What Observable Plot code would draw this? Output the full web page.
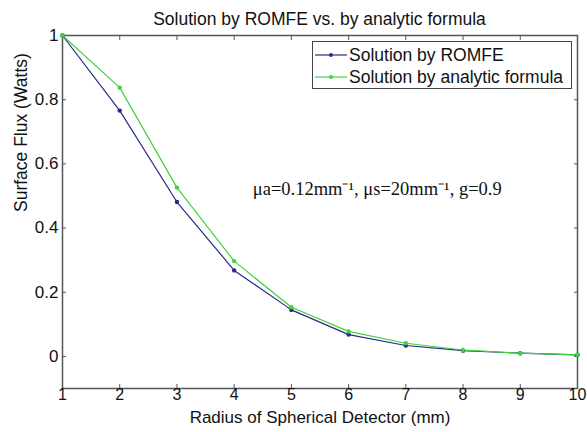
<!DOCTYPE html>
<html>
<head>
<meta charset="utf-8">
<script src="https://cdn.jsdelivr.net/npm/d3@7"></script>
<script src="https://cdn.jsdelivr.net/npm/@observablehq/plot@0.6"></script>
<style>
  body { margin: 0; background: #fff; }
  #wrap { position: relative; width: 587px; height: 432px; font-family: "Liberation Sans", Arial, sans-serif; }
  #title { position: absolute; left: 62px; width: 515px; top: 8px; line-height: 22px; text-align: center; font-size: 17.5px; color: #111; white-space: nowrap; }
  #legend { position: absolute; left: 312px; top: 41px; width: 258px; height: 46px; border: 1px solid #444; background: #fff; font-size: 17.5px; color: #111; }
  .row { position: absolute; left: 2px; height: 22px; line-height: 22px; display: flex; align-items: center; white-space: nowrap; }
  .row svg { margin-right: 2px; }
</style>
</head>
<body>
<div id="wrap"></div>
<script>
const radius = [1, 2, 3, 4, 5, 6, 7, 8, 9, 10];
const romfe = [1.0, 0.766, 0.481, 0.268, 0.145, 0.068, 0.034, 0.018, 0.010, 0.005];
const analytic = [1.0, 0.8375, 0.526, 0.297, 0.153, 0.078, 0.041, 0.020, 0.010, 0.005];
const seriesNames = ["Solution by ROMFE", "Solution by analytic formula"];
const seriesColors = ["#2a2a86", "#3fd33f"];
const xTicks = [1, 2, 3, 4, 5, 6, 7, 8, 9, 10];
const yTicks = [0, 0.2, 0.4, 0.6, 0.8, 1];
const titleText = "Solution by ROMFE vs. by analytic formula";
const xLabel = "Radius of Spherical Detector (mm)";
const yLabel = "Surface Flux (Watts)";
const annotation = [{x: 6.5, y: 0.52, text: "\u03bca=0.12mm\u207b\u00b9, \u03bcs=20mm\u207b\u00b9, g=0.9"}];

const data = [];
radius.forEach((r, i) => {
  data.push({r, v: romfe[i], s: seriesNames[0]});
  data.push({r, v: analytic[i], s: seriesNames[1]});
});

const axisColor = "#555";
const fs = 17.5;
const chart = Plot.plot({
  width: 587,
  height: 432,
  marginLeft: 62,
  marginRight: 10,
  marginTop: 35,
  marginBottom: 44,
  style: {fontFamily: "'Liberation Sans', Arial, sans-serif", fontSize: fs + "px", color: "#111", background: "#fff"},
  x: {domain: [1, 10]},
  y: {domain: [-0.1, 1]},
  color: {domain: seriesNames, range: seriesColors},
  marks: [
    Plot.frame({stroke: axisColor, strokeWidth: 1.5}),
    Plot.axisX({ticks: xTicks, tickSize: -4, tickPadding: 4, stroke: axisColor, tickFormat: d3.format("d"), fontSize: 16, label: null}),
    Plot.axisX({anchor: "top", ticks: xTicks, tickSize: -4, stroke: axisColor, tickFormat: () => "", label: null}),
    Plot.axisY({ticks: yTicks, tickSize: -4, tickPadding: 8, stroke: axisColor, tickFormat: d => d === 0 ? "0" : d === 1 ? "1" : d3.format(".1f")(d), fontSize: 17, label: null}),
    Plot.axisY({anchor: "right", ticks: yTicks, tickSize: -4, stroke: axisColor, tickFormat: () => "", label: null}),
    Plot.text([xLabel], {frameAnchor: "bottom", dy: 34, text: d => d, fontSize: 17, fill: "#111"}),
    Plot.text([yLabel], {frameAnchor: "left", dx: -41, rotate: -90, text: d => d, fontSize: fs, fill: "#111"}),
    Plot.line(data, {x: "r", y: "v", z: "s", stroke: "s", strokeWidth: 1.2}),
    Plot.dot(data, {x: "r", y: "v", fill: "s", r: 2.2}),
    Plot.text(annotation, {x: "x", y: "y", text: "text", fontFamily: "'Liberation Serif', 'Times New Roman', serif", fontSize: 18.5, fill: "#111"})
  ]
});

const wrap = document.getElementById("wrap");
wrap.appendChild(chart);
const t = document.createElement("div");
t.id = "title";
t.textContent = titleText;
wrap.appendChild(t);

const lg = document.createElement("div");
lg.id = "legend";
seriesNames.forEach((name, i) => {
  const row = document.createElement("div");
  row.className = "row";
  row.style.top = (i * 22 + 2) + "px";
  row.innerHTML = `<svg width="32" height="10"><line x1="0" y1="5" x2="32" y2="5" stroke="${seriesColors[i]}" stroke-width="1.2"/><circle cx="16" cy="5" r="2" fill="${seriesColors[i]}"/></svg><span>${name}</span>`;
  lg.appendChild(row);
});
wrap.appendChild(lg);
</script>
</body>
</html>
